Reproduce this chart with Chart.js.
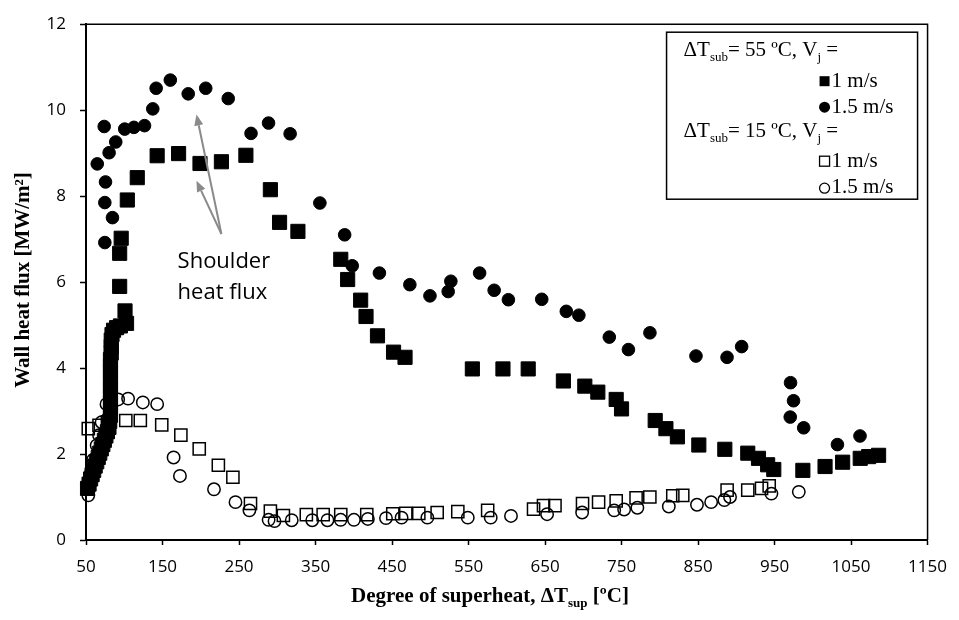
<!DOCTYPE html>
<html>
<head>
<meta charset="utf-8">
<script src="https://cdn.jsdelivr.net/npm/chart.js@4.4.1/dist/chart.umd.min.js"></script>
<style>
  html, body { margin: 0; padding: 0; background: #fff; }
  canvas { display: block; }
</style>
</head>
<body>
<canvas id="flux-chart" width="959" height="620"></canvas>
<script>
// superheat axis ticks
const xTicks = [50, 150, 250, 350, 450, 550, 650, 750, 850, 950, 1050, 1150];

// ΔTsub = 55 ºC, Vj = 1 m/s
const sub55v1X = [52, 54, 56, 58, 60, 62, 64, 66, 68, 70, 72, 74, 76, 78, 80, 81, 82, 82, 82, 82, 82, 82, 82, 82, 82, 83, 83, 83, 84, 86, 90, 95,
  103, 101, 94, 94, 96, 104, 117, 143, 171, 199, 227, 259, 291, 303, 327, 383, 392, 409, 416, 431, 452, 467,
  555, 595, 628, 674, 702, 719, 743, 750, 794, 808, 823, 851, 885, 915, 929, 941, 949, 987, 1016, 1039, 1062, 1073, 1086];
const sub55v1Y = [1.2, 1.3, 1.42, 1.52, 1.62, 1.72, 1.82, 1.92, 2.02, 2.12, 2.22, 2.32, 2.42, 2.52, 2.62, 2.76, 2.9, 3.05, 3.2, 3.38, 3.55, 3.72, 3.9, 4.05, 4.2, 4.35, 4.5, 4.65, 4.78, 4.88, 4.94, 4.98,
  5.04, 5.33, 5.9, 6.67, 7.02, 7.91, 8.43, 8.94, 8.99, 8.76, 8.8, 8.95, 8.15, 7.39, 7.18, 6.53, 6.06, 5.58, 5.2, 4.75, 4.37, 4.25,
  3.98, 3.98, 3.98, 3.7, 3.58, 3.44, 3.27, 3.05, 2.78, 2.59, 2.4, 2.21, 2.11, 2.02, 1.9, 1.75, 1.64, 1.62, 1.71, 1.81, 1.9, 1.94, 1.97];

// ΔTsub = 55 ºC, Vj = 1.5 m/s
const sub55v15X = [74.6, 74.6, 84.6, 75.5, 64.7, 73.8, 80.2, 88.9, 100.6, 112.6, 126.5, 137.3, 141.7, 160.2, 183.6, 206.5, 235.9, 265.7, 288.6, 316.8,
  355.7, 388.1, 398, 433.5, 473.3, 499.6, 523.4, 526.9, 564.5, 583.5, 602.1, 645.7, 677.8, 694.2, 734, 759, 787.1, 847.3, 887.9, 907,
  970.9, 974.8, 970.5, 988.1, 1032.2, 1061.7];
const sub55v15Y = [6.92, 7.85, 7.5, 8.33, 8.75, 9.62, 9.01, 9.26, 9.56, 9.6, 9.64, 10.03, 10.51, 10.7, 10.38, 10.51, 10.27, 9.46, 9.7, 9.45,
  7.84, 7.1, 6.38, 6.21, 5.94, 5.68, 5.78, 6.02, 6.21, 5.81, 5.59, 5.6, 5.32, 5.23, 4.72, 4.43, 4.82, 4.28, 4.25, 4.5,
  3.66, 3.24, 2.86, 2.61, 2.22, 2.42];

// ΔTsub = 15 ºC, Vj = 1 m/s
const sub15v1X = [53, 67, 78, 102, 121, 149, 174, 198, 223, 242, 265, 291, 308, 338, 360, 383, 417, 451, 468, 485, 509, 536, 575,
  635, 648, 663, 699, 720, 743, 769, 787, 817, 830, 888, 915, 933, 943];
const sub15v1Y = [2.59, 2.67, 2.75, 2.78, 2.78, 2.68, 2.44, 2.12, 1.74, 1.46, 0.85, 0.67, 0.57, 0.59, 0.59, 0.59, 0.59, 0.61, 0.62, 0.62, 0.64, 0.66, 0.69,
  0.72, 0.8, 0.8, 0.85, 0.88, 0.91, 0.98, 1.0, 1.03, 1.04, 1.16, 1.16, 1.2, 1.26];

// ΔTsub = 15 ºC, Vj = 1.5 m/s
const sub15v15X = [53, 55, 57, 59.5, 64, 67, 70.4, 76.8, 92, 105, 124.3, 143, 164.5, 172.8, 217.3, 245.4, 263.6, 288.7, 296.4, 318.9,
  345.7, 365.6, 382.9, 400.2, 418.4, 442.1, 462.5, 496.2, 549, 579, 605.5, 652.7, 698.5, 740.4, 753.4, 770.7, 811.8, 848.6, 867.1, 884.4, 891.8, 945.9, 981.7];
const sub15v15Y = [1.04, 1.3, 1.6, 1.87, 2.2, 2.44, 2.74, 3.16, 3.27, 3.29, 3.2, 3.16, 1.92, 1.49, 1.18, 0.88, 0.69, 0.47, 0.44, 0.46,
  0.46, 0.46, 0.47, 0.47, 0.49, 0.51, 0.52, 0.52, 0.52, 0.52, 0.56, 0.6, 0.64, 0.69, 0.71, 0.75, 0.78, 0.82, 0.88, 0.93, 1.0, 1.08, 1.12];

// "Shoulder heat flux" callout, in data units
const calloutBase = [227, 7.12];
const calloutTips = [[194.4, 9.9], [194.4, 8.36]];
const calloutText = ["Shoulder", "heat flux"];
const calloutAt = [169.7, 6.48];

const pts = (xs, ys) => xs.map((x, i) => ({ x: x, y: ys[i] }));

const tickFont = { family: "'Open Sans', sans-serif", size: 17 };

// writes text runs, the flagged ones as subscripts; returns the total width
function richText(ctx, runs, x, y, size, weight, measureOnly) {
  let cx = x;
  runs.forEach(([txt, sub]) => {
    const s = sub ? Math.round(size * 0.64) : size;
    ctx.font = weight + " " + s + "px 'Liberation Serif', 'Times New Roman', serif";
    if (!measureOnly) ctx.fillText(txt, cx, sub ? y + size * 0.22 : y);
    cx += ctx.measureText(txt).width;
  });
  return cx - x;
}

function arrow(ctx, x0, y0, x1, y1) {
  const ang = Math.atan2(y1 - y0, x1 - x0);
  const len = 11, half = 4.5;
  const bx = x1 - len * Math.cos(ang), by = y1 - len * Math.sin(ang);
  ctx.beginPath();
  ctx.moveTo(x0, y0);
  ctx.lineTo(bx, by);
  ctx.stroke();
  ctx.beginPath();
  ctx.moveTo(x1, y1);
  ctx.lineTo(bx + half * Math.sin(ang), by - half * Math.cos(ang));
  ctx.lineTo(bx - half * Math.sin(ang), by + half * Math.cos(ang));
  ctx.closePath();
  ctx.fill();
}

const extras = {
  id: "extras",
  afterDraw(chart) {
    const ctx = chart.ctx;
    const a = chart.chartArea;
    const xs = chart.scales.x, ys = chart.scales.y;
    ctx.save();

    // frame on top and right
    ctx.strokeStyle = "#000";
    ctx.lineWidth = 1.5;
    ctx.beginPath();
    ctx.moveTo(a.left, a.top);
    ctx.lineTo(a.right, a.top);
    ctx.lineTo(a.right, a.bottom);
    ctx.stroke();

    // callout arrows
    ctx.strokeStyle = "#8a8a8a";
    ctx.fillStyle = "#8a8a8a";
    ctx.lineWidth = 2;
    const bx = xs.getPixelForValue(calloutBase[0]), by = ys.getPixelForValue(calloutBase[1]);
    calloutTips.forEach(t => arrow(ctx, bx, by, xs.getPixelForValue(t[0]), ys.getPixelForValue(t[1])));

    ctx.fillStyle = "#000";
    ctx.font = "22px 'Open Sans', sans-serif";
    ctx.textBaseline = "middle";
    ctx.textAlign = "left";
    const tx = xs.getPixelForValue(calloutAt[0]), ty = ys.getPixelForValue(calloutAt[1]);
    ctx.fillText(calloutText[0], tx, ty);
    ctx.fillText(calloutText[1], tx, ty + 31);

    // axis titles
    ctx.textBaseline = "alphabetic";
    const xRuns = [["Degree of superheat, ΔT", 0], ["sup", 1], [" [ºC]", 0]];
    const w = richText(ctx, xRuns, 0, 0, 21, "bold", true);
    richText(ctx, xRuns, 490 - w / 2, 602, 21, "bold", false);

    ctx.save();
    ctx.translate(29, 280);
    ctx.rotate(-Math.PI / 2);
    ctx.font = "bold 21px 'Liberation Serif', 'Times New Roman', serif";
    ctx.textAlign = "center";
    ctx.fillText("Wall heat flux [MW/m²]", 0, 0);
    ctx.restore();

    // legend box
    const L = a.right - 261, T = a.top + 8;
    ctx.fillStyle = "#fff";
    ctx.fillRect(L, T, 251, 167);
    ctx.strokeStyle = "#000";
    ctx.lineWidth = 1.5;
    ctx.strokeRect(L, T, 251, 167);

    ctx.fillStyle = "#000";
    ctx.textAlign = "left";
    const hx = L + 17, mx = L + 158, lx = L + 165;
    richText(ctx, [["ΔT", 0], ["sub", 1], ["= 55 ºC, V", 0], ["j", 1], [" =", 0]], hx, T + 24, 21, "normal", false);
    richText(ctx, [["ΔT", 0], ["sub", 1], ["= 15 ºC, V", 0], ["j", 1], [" =", 0]], hx, T + 105, 21, "normal", false);
    const rows = [[T + 55, "1 m/s"], [T + 81, "1.5 m/s"], [T + 135, "1 m/s"], [T + 161, "1.5 m/s"]];
    rows.forEach(([y, label]) => richText(ctx, [[label, 0]], lx, y, 21, "normal", false));

    ctx.lineWidth = 1.3;
    ctx.fillRect(mx - 5, T + 44, 10, 10);
    ctx.beginPath(); ctx.arc(mx, T + 75, 5.5, 0, Math.PI * 2); ctx.fill();
    ctx.strokeRect(mx - 5, T + 124, 10, 10);
    ctx.beginPath(); ctx.arc(mx, T + 156, 5, 0, Math.PI * 2); ctx.stroke();

    ctx.restore();
  }
};

new Chart(document.getElementById("flux-chart"), {
  type: "scatter",
  data: {
    datasets: [
      {
        label: "55 ºC, 1 m/s",
        data: pts(sub55v1X, sub55v1Y),
        pointStyle: "rect",
        pointRadius: 10,
        backgroundColor: "#000",
        borderColor: "#000",
        borderWidth: 1,
        clip: false
      },
      {
        label: "55 ºC, 1.5 m/s",
        data: pts(sub55v15X, sub55v15Y),
        pointStyle: "circle",
        pointRadius: 6.3,
        backgroundColor: "#000",
        borderColor: "#000",
        borderWidth: 1,
        clip: false
      },
      {
        label: "15 ºC, 1 m/s",
        data: pts(sub15v1X, sub15v1Y),
        pointStyle: "rect",
        pointRadius: 8.6,
        backgroundColor: "rgba(0,0,0,0)",
        borderColor: "#000",
        borderWidth: 1.5,
        clip: false
      },
      {
        label: "15 ºC, 1.5 m/s",
        data: pts(sub15v15X, sub15v15Y),
        pointStyle: "circle",
        pointRadius: 6.2,
        backgroundColor: "rgba(0,0,0,0)",
        borderColor: "#000",
        borderWidth: 1.5,
        clip: false
      }
    ]
  },
  options: {
    responsive: false,
    animation: false,
    layout: { padding: { left: 0, top: 15, right: 25, bottom: 0 } },
    plugins: {
      legend: { display: false },
      tooltip: { enabled: false }
    },
    scales: {
      x: {
        type: "linear",
        min: 50,
        max: 1150,
        afterBuildTicks: s => { s.ticks = xTicks.map(v => ({ value: v })); },
        afterFit: s => { s.height = 80; },
        ticks: { font: tickFont, color: "#000", padding: 12, maxRotation: 0, autoSkip: false, callback: v => String(v) },
        grid: { drawOnChartArea: false, tickLength: 5, tickWidth: 1.5, tickColor: "#000" },
        border: { color: "#000", width: 2 }
      },
      y: {
        min: 0,
        max: 12,
        afterFit: s => { s.width = 86; },
        ticks: { stepSize: 2, font: tickFont, color: "#000", padding: 14 },
        grid: { drawOnChartArea: false, tickLength: 6, tickWidth: 1.5, tickColor: "#000" },
        border: { color: "#000", width: 2 }
      }
    }
  },
  plugins: [extras]
});
</script>
</body>
</html>
